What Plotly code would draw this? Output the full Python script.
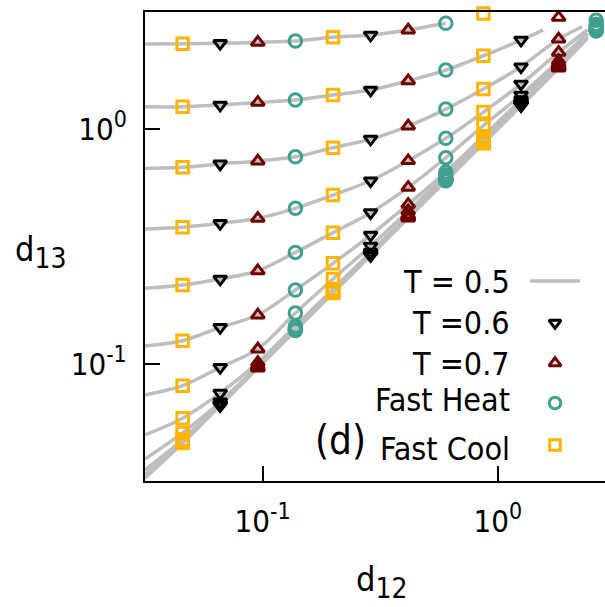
import plotly.graph_objects as go

# ---------------- data ----------------
d12 = [0.0316, 0.0457, 0.0660, 0.0954, 0.1378, 0.1991, 0.2877,
       0.4157, 0.6006, 0.8678, 1.254, 1.812, 2.618]

# d13 along each curve on the d12 grid (None = outside the frame)
c1 = [2.308, 2.315, 2.324, 2.348, 2.378, 2.466, 2.522, 2.649, 2.829, 3.114, None, None, None]
c2 = [1.247, 1.247, 1.268, 1.302, 1.332, 1.399, 1.470, 1.610, 1.788, 2.058, 2.401, 3.000, None]
c3 = [0.681, 0.688, 0.711, 0.732, 0.763, 0.834, 0.908, 1.032, 1.219, 1.484, 1.847, 2.425, 2.916]
c4 = [0.3754, 0.3818, 0.3969, 0.4169, 0.460, 0.524, 0.603, 0.734, 0.915, 1.184, 1.559, 2.128, 2.804]
c5 = [0.2097, 0.2166, 0.2298, 0.2492, 0.2985, 0.3619, 0.4405, 0.5651, 0.7558, 1.037, 1.399, 1.960, 2.750]
c6 = [0.1190, 0.1253, 0.1429, 0.1613, 0.2062, 0.2680, 0.3538, 0.4783, 0.6561, 0.9341, 1.337, 1.913, 2.723]
c7 = [0.0735, 0.0806, 0.0965, 0.1155, 0.1645, 0.2298, 0.3176, 0.4478, 0.6371, 0.9114, 1.310, 1.885, 2.696]
c8 = [0.0497, 0.0586, 0.0749, 0.1012, 0.1447, 0.2081, 0.2992, 0.4307, 0.6204, 0.8939, 1.292, 1.860, 2.670]
c9 = [0.0392, 0.0507, 0.0688, 0.0981, 0.1411, 0.2041, 0.2955, 0.4252, 0.6120, 0.8850, 1.285, 1.848, 2.657]
c10 = [0.0352, 0.0475, 0.0673, 0.0968, 0.1399, 0.2021, 0.2920, 0.4219, 0.6096, 0.8808, 1.273, 1.839, 2.644]
c11 = [0.0335, 0.0466, 0.0667, 0.0964, 0.1392, 0.2011, 0.2906, 0.4199, 0.6066, 0.8765, 1.266, 1.830, 2.634]
c12 = [0.0325, 0.0459, 0.0663, 0.0959, 0.1385, 0.2001, 0.2891, 0.4178, 0.6036, 0.8721, 1.260, 1.821, 2.626]

# T = 0.5 lines: last grid index used, then an extra end point
line_last_k = [8, 10, 11, 11, 11, 11, 11, 11, 11, 11, 11, 11]
line_end_d12 = [None, 1.556, 2.280, 2.40, 2.40, 2.40, 2.40, 2.40, 2.40, 2.40, 2.40, 2.40]
line_end_d13 = [None, 2.649, 2.736, 2.65, 2.57, 2.54, 2.51, 2.48, 2.47, 2.46, 2.45, 2.44]

# which grid columns carry which marker series
k_fast_cool = [1, 5, 9]
k_t06 = [2, 6, 10]
k_t07 = [3, 7, 11]
k_fast_heat = [4, 8, 12]

FONT = "DejaVu Sans Condensed, DejaVu Sans, sans-serif"
GRAY = "#bebebe"
C_COOL = "#ffb400"
C_HEAT = "#40a090"
C_T07 = "#6e0000"
C_T06 = "#000000"

curves = [c1, c2, c3, c4, c5, c6, c7, c8, c9, c10, c11, c12]

fig = go.Figure()

# gray T = 0.5 curves
lx, ly = [], []
for c, last, ex, ey in zip(curves, line_last_k, line_end_d12, line_end_d13):
    lx += d12[:last + 1]
    ly += c[:last + 1]
    if ex is not None:
        lx.append(ex)
        ly.append(ey)
    lx.append(None)
    ly.append(None)
fig.add_trace(go.Scatter(x=lx, y=ly, mode="lines", name="T = 0.5",
                         line=dict(color=GRAY, width=3.5, shape="spline", smoothing=0.8),
                         connectgaps=False, showlegend=False, cliponaxis=True))


def series_points(ks):
    xs, ys = [], []
    for c in curves:
        for k in ks:
            if c[k] is not None:
                xs.append(d12[k])
                ys.append(c[k])
    return xs, ys


series = [
    ("T =0.6", k_t06, "triangle-down-open", C_T06, 11.5),
    ("T =0.7", k_t07, "triangle-up-open", C_T07, 11.5),
    ("Fast Heat", k_fast_heat, "circle-open", C_HEAT, 12.5),
    ("Fast Cool", k_fast_cool, "square-open", C_COOL, 11.5),
]
for name, ks, sym, col, sz in series:
    xs, ys = series_points(ks)
    fig.add_trace(go.Scatter(x=xs, y=ys, mode="markers", name=name, showlegend=False,
                             marker=dict(symbol=sym, size=sz, color=col,
                                         line=dict(color=col, width=3)),
                             cliponaxis=False))

# ---------------- key (drawn on a pixel overlay) ----------------
key_x0, key_x1, key_xm = 530, 580, 555
key_rows = [281, 323, 363, 403, 445]
fig.add_trace(go.Scatter(x=[key_x0, key_x1], y=[key_rows[0]] * 2, mode="lines",
                         line=dict(color=GRAY, width=3.5), xaxis="x2", yaxis="y2",
                         showlegend=False, hoverinfo="skip"))
for (name, ks, sym, col, sz), ry in zip(series, key_rows[1:]):
    fig.add_trace(go.Scatter(x=[key_xm], y=[ry], mode="markers", xaxis="x2", yaxis="y2",
                             marker=dict(symbol=sym, size=sz - 1, color=col,
                                         line=dict(color=col, width=3)),
                             showlegend=False, hoverinfo="skip", cliponaxis=False))

L, T, W, H = 145, 12, 460, 469


def px(x):
    return (x - L) / W


def py(y):
    return (T + H - y) / H


ann = []
key_text = ["T = 0.5", "T =0.6", "T =0.7", "Fast Heat", "Fast Cool"]
key_text_y = [282, 323, 364, 400, 449]
for t, y in zip(key_text, key_text_y):
    ann.append(dict(text=t, x=px(512), y=py(y), xref="paper", yref="paper",
                    xanchor="right", yanchor="middle", showarrow=False,
                    font=dict(family=FONT, size=32, color="black")))
ann.append(dict(text="(d)", x=px(340), y=py(440), xref="paper", yref="paper",
                xanchor="center", yanchor="middle", showarrow=False,
                font=dict(family=FONT, size=40, color="black")))
SUB = "<sub><span style='font-size:28px'>%s</span></sub>"
ann.append(dict(text="d" + SUB % "13", x=px(40), y=py(252), xref="paper", yref="paper",
                xanchor="center", yanchor="middle", showarrow=False,
                font=dict(family=FONT, size=34, color="black")))
ann.append(dict(text="d" + SUB % "12", x=px(381), y=py(582), xref="paper", yref="paper",
                xanchor="center", yanchor="middle", showarrow=False,
                font=dict(family=FONT, size=34, color="black")))

tick_vals = [0.1, 1]
SUP = "<sup><span style='font-size:23px'>%s</span></sup>"
tick_text = ["10" + SUP % "-1", "10" + SUP % "0"]

axis_common = dict(type="log", showgrid=False, zeroline=False, showline=True,
                   linecolor="black", linewidth=2, ticks="inside", ticklen=15,
                   tickwidth=1.5, tickcolor="black", tickvals=tick_vals,
                   ticktext=tick_text, tickfont=dict(family=FONT, size=31, color="black"))

fig.update_layout(
    width=605, height=607,
    margin=dict(l=L, r=605 - L - W, t=T, b=607 - T - H, pad=0),
    paper_bgcolor="white", plot_bgcolor="white",
    showlegend=False,
    xaxis=dict(range=[-1.5, 0.4553], mirror=True, ticklabelstandoff=12, **axis_common),
    yaxis=dict(range=[-1.5, 0.5], mirror=False, ticklabelstandoff=10, **axis_common),
    xaxis2=dict(overlaying="x", range=[L, L + W], visible=False, anchor="y2"),
    yaxis2=dict(overlaying="y", range=[T + H, T], visible=False, anchor="x2"),
    annotations=ann,
)

fig.write_html("out.html")
